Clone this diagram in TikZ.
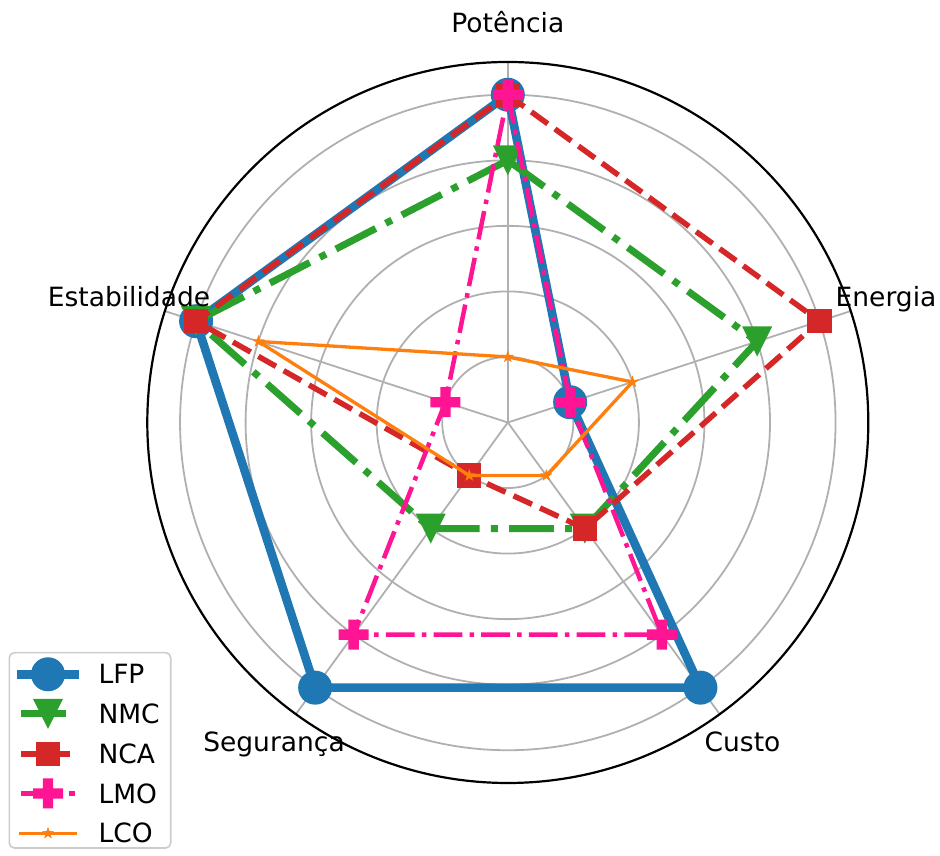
\documentclass[tikz,border=0pt]{standalone}
\usepackage{fontspec}
\setmainfont{DejaVu Sans}
\usetikzlibrary{calc}
\definecolor{tabblue}{HTML}{1F77B4}
\definecolor{tabgreen}{HTML}{2CA02C}
\definecolor{tabred}{HTML}{D62728}
\definecolor{deeppink}{HTML}{FF1493}
\definecolor{taborange}{HTML}{FF7F0E}
\definecolor{gridgray}{HTML}{B0B0B0}
\definecolor{legendedge}{HTML}{CCCCCC}

% one grid ring in pixels
\newcommand\U{65.55}
% five radar points of a series: Potencia, Energia, Custo, Seguranca, Estabilidade
\newcommand\seriespts[6]{%
  \coordinate (#1-1) at (90:{#2*\U});
  \coordinate (#1-2) at (18:{#3*\U});
  \coordinate (#1-3) at (-54:{#4*\U});
  \coordinate (#1-4) at (234:{#5*\U});
  \coordinate (#1-5) at (162:{#6*\U});
}

\begin{document}
\begin{tikzpicture}[x=1pt,y=1pt,
  gridline/.style={draw=gridgray,line width=1.8pt},
  lfpline/.style={draw=tabblue,line width=8.6pt,line join=round,line cap=rect},
  nmcline/.style={draw=tabgreen,line width=7pt,line join=round,
    dash pattern=on 44.8pt off 11.2pt on 7pt off 11.2pt},
  ncaline/.style={draw=tabred,line width=5.5pt,line join=round,
    dash pattern=on 20.3pt off 8.8pt},
  lmoline/.style={draw=deeppink,line width=4.5pt,line join=round,
    dash pattern=on 28.8pt off 7.2pt on 4.5pt off 7.2pt},
  lcoline/.style={draw=taborange,line width=3.3pt,line join=round,line cap=rect},
  axislabel/.style={font=\fontsize{26.5}{32}\selectfont,anchor=base,inner sep=0pt},
  legendtext/.style={font=\fontsize{26.5}{32}\selectfont,anchor=base west,inner sep=0pt},
  lfpdot/.pic={\fill[tabblue] (0,0) circle[radius=17pt];},
  nmctri/.pic={\fill[tabgreen] (0,-15) -- (-15,15) -- (15,15) -- cycle;},
  ncasq/.pic={\fill[tabred] (-12.2,-12.2) rectangle (12.2,12.2);},
  lmoplus/.pic={\fill[deeppink] (-5.2,-15) -- (5.2,-15) -- (5.2,-5.2) -- (15,-5.2)
     -- (15,5.2) -- (5.2,5.2) -- (5.2,15) -- (-5.2,15) -- (-5.2,5.2) -- (-15,5.2)
     -- (-15,-5.2) -- (-5.2,-5.2) -- cycle;},
  lcostar/.pic={\fill[taborange] (90:6.5) -- (126:2.6) -- (162:6.5) -- (198:2.6)
     -- (234:6.5) -- (270:2.6) -- (306:6.5) -- (342:2.6) -- (18:6.5) -- (54:2.6) -- cycle;},
]
\useasboundingbox (0,0) rectangle (940,856);

\begin{scope}[shift={(507.8,433.5)}]
  \coordinate (ctr) at (0,0);
  % grid rings and spokes
  \foreach \r in {1,...,5} {
    \draw[gridline] (ctr) circle[radius={\r*\U}];
  }
  \foreach \a in {90,18,-54,234,162} {
    \coordinate (spoke-\a) at (\a:360.5);
    \draw[gridline] (ctr) -- (spoke-\a);
  }

  \seriespts{lfp}{5}{1}{5}{5}{5}
  \seriespts{nmc}{4}{4}{2}{2}{5}
  \seriespts{nca}{5}{5}{2}{1}{5}
  \seriespts{lmo}{5}{1}{4}{4}{1}
  \seriespts{lco}{1}{2}{1}{1}{4}

  % LFP
  \draw[lfpline] (lfp-1) -- (lfp-2) -- (lfp-3) -- (lfp-4) -- (lfp-5) -- cycle;
  \foreach \i in {1,...,5} { \pic at (lfp-\i) {lfpdot}; }
  % NMC
  \draw[nmcline] (nmc-1) -- (nmc-2) -- (nmc-3) -- (nmc-4) -- (nmc-5) -- (nmc-1);
  \foreach \i in {1,...,5} { \pic at (nmc-\i) {nmctri}; }
  % NCA
  \draw[ncaline] (nca-1) -- (nca-2) -- (nca-3) -- (nca-4) -- (nca-5) -- (nca-1);
  \foreach \i in {1,...,5} { \pic at (nca-\i) {ncasq}; }
  % LMO
  \draw[lmoline] (lmo-1) -- (lmo-2) -- (lmo-3) -- (lmo-4) -- (lmo-5) -- (lmo-1);
  \foreach \i in {1,...,5} { \pic at (lmo-\i) {lmoplus}; }
  % LCO
  \draw[lcoline] (lco-1) -- (lco-2) -- (lco-3) -- (lco-4) -- (lco-5) -- cycle;
  \foreach \i in {1,...,5} { \pic at (lco-\i) {lcostar}; }

  % outer frame of the polar axes
  \draw[black,line width=2.2pt] (ctr) circle[radius=360.5];
\end{scope}

% axis labels
\node[axislabel] (lbl-pot) at (507.8,823) {Potência};
\node[axislabel] (lbl-ene) at (886,549) {Energia};
\node[axislabel] (lbl-est) at (129,549) {Estabilidade};
\node[axislabel] (lbl-cus) at (742.5,104.5) {Custo};
\node[axislabel] (lbl-seg) at (274,104.5) {Segurança};

% legend
\draw[legendedge,line width=1.6pt,fill=white,fill opacity=0.8,rounded corners=5pt]
  (9.3,8) rectangle (170.7,203.3);

\coordinate (leg-lfp-a) at (21,181.7);   \coordinate (leg-lfp-b) at (75,181.7);
\coordinate (leg-nmc-a) at (21,142);     \coordinate (leg-nmc-b) at (75,142);
\coordinate (leg-nca-a) at (21,102.2);   \coordinate (leg-nca-b) at (75,102.2);
\coordinate (leg-lmo-a) at (21,62.5);    \coordinate (leg-lmo-b) at (75,62.5);
\coordinate (leg-lco-a) at (21,22.7);    \coordinate (leg-lco-b) at (75,22.7);

\draw[lfpline] (leg-lfp-a) -- (leg-lfp-b);
\pic at ($(leg-lfp-a)!0.5!(leg-lfp-b)$) {lfpdot};
\draw[nmcline] (leg-nmc-a) -- (leg-nmc-b);
\pic at ($(leg-nmc-a)!0.5!(leg-nmc-b)$) {nmctri};
\draw[ncaline] (leg-nca-a) -- (leg-nca-b);
\pic at ($(leg-nca-a)!0.5!(leg-nca-b)$) {ncasq};
\draw[lmoline] (leg-lmo-a) -- (leg-lmo-b);
\pic at ($(leg-lmo-a)!0.5!(leg-lmo-b)$) {lmoplus};
\draw[lcoline] (leg-lco-a) -- (leg-lco-b);
\pic at ($(leg-lco-a)!0.5!(leg-lco-b)$) {lcostar};

\node[legendtext] (leg-lfp) at (98.3,172) {LFP};
\node[legendtext] (leg-nmc) at (98.3,132.3) {NMC};
\node[legendtext] (leg-nca) at (98.3,92.5) {NCA};
\node[legendtext] (leg-lmo) at (98.3,52.8) {LMO};
\node[legendtext] (leg-lco) at (98.3,13) {LCO};
\end{tikzpicture}
\end{document}
